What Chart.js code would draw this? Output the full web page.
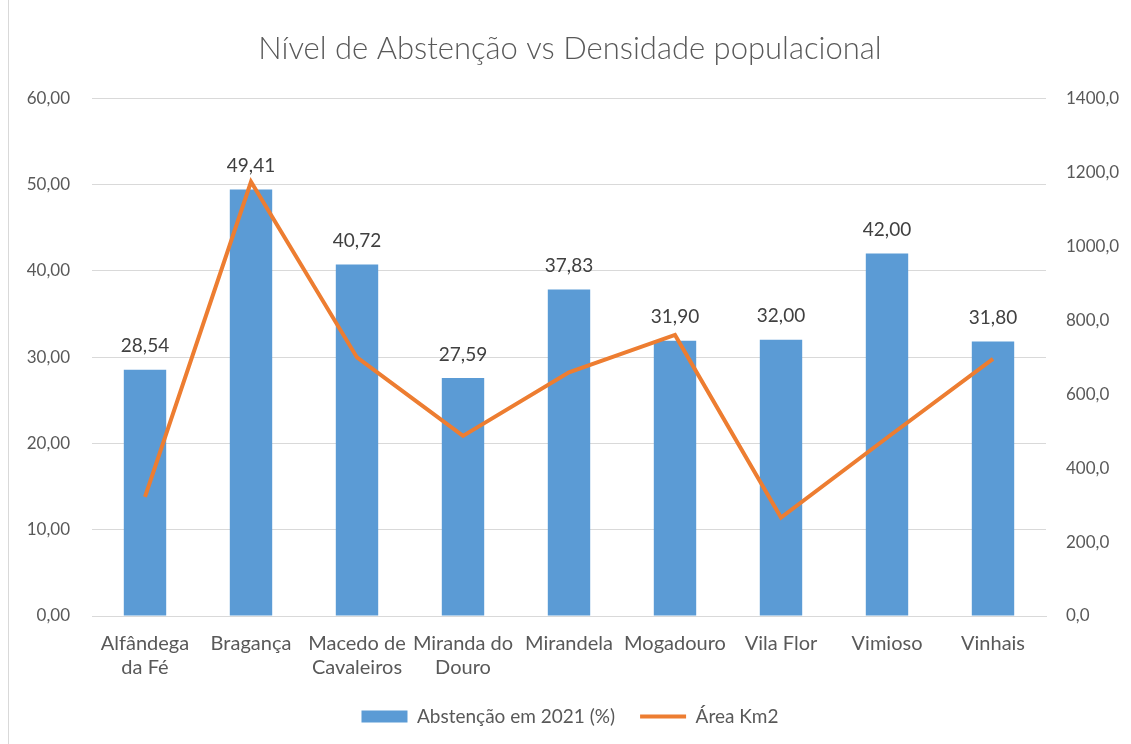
<!doctype html>
<html lang="pt">
<head>
  <meta charset="utf-8">
  <title>Nível de Abstenção vs Densidade populacional</title>
  <script src="https://cdn.jsdelivr.net/npm/chart.js"></script>
  <style>
    html, body { margin: 0; padding: 0; background: #fff; overflow: hidden; }
    #wrap { position: relative; width: 1123px; height: 745px; box-sizing: border-box; border-left: 1px solid #d9d9d9; border-top: 1px solid #d9d9d9; margin-left: 8px; margin-top: -1px; }
    canvas { display: block; }
  </style>
</head>
<body>
  <div id="wrap"><canvas id="chart" width="1122" height="744"></canvas></div>

  <script>
    // dados
    const concelhos = [
      ['Alfândega', 'da Fé'], 'Bragança', ['Macedo de', 'Cavaleiros'], ['Miranda do', 'Douro'],
      'Mirandela', 'Mogadouro', 'Vila Flor', 'Vimioso', 'Vinhais'
    ];
    const abstencao = [28.54, 49.41, 40.72, 27.59, 37.83, 31.90, 32.00, 42.00, 31.80];
    const areaKm2 = [322, 1174, 699, 487, 659, 760, 266, 482, 695];

    const fontFamily = 'Lato, "Open Sans", sans-serif';
    const textColor = '#595959';

    const fmt = (v, d) => Number(v).toFixed(d).replace('.', ',');

    // etiquetas de valor por cima das barras
    const barLabels = {
      id: 'barLabels',
      afterDatasetsDraw(chart) {
        const ctx = chart.ctx;
        const meta = chart.getDatasetMeta(0);
        ctx.save();
        ctx.font = '19px ' + fontFamily;
        ctx.fillStyle = '#404040';
        ctx.textAlign = 'center';
        ctx.textBaseline = 'bottom';
        meta.data.forEach((bar, i) => {
          ctx.fillText(fmt(abstencao[i], 2), bar.x, bar.y - 14);
        });
        ctx.restore();
      }
    };

    const ctx = document.getElementById('chart');
    new Chart(ctx, {
      type: 'bar',
      data: {
        labels: concelhos,
        datasets: [{
          label: 'Abstenção em 2021 (%)',
          data: abstencao,
          backgroundColor: '#5B9BD5',
          borderWidth: 0,
          yAxisID: 'y',
          barPercentage: 0.4,
          categoryPercentage: 1,
          pointStyle: 'rect',
          order: 2
        },
        {
          type: 'line',
          label: 'Área Km2',
          data: areaKm2,
          borderColor: '#ED7D31',
          backgroundColor: '#ED7D31',
          borderWidth: 4,
          pointRadius: 0,
          pointStyle: 'line',
          tension: 0,
          yAxisID: 'y1',
          order: 1
        }]
      },
      options: {
        responsive: false,
        animation: false,
        layout: { padding: { top: 30, left: 0, right: 0, bottom: 8 } },
        plugins: {
          title: {
            display: true,
            text: 'Nível de Abstenção vs Densidade populacional',
            color: textColor,
            font: { family: fontFamily, size: 31, weight: 300 },
            padding: { top: 0, bottom: 31 }
          },
          legend: {
            position: 'bottom',
            labels: {
              usePointStyle: true,
              pointStyleWidth: 46,
              boxHeight: 12,
              color: textColor,
              font: { family: fontFamily, size: 19 },
              padding: 25,
              sort: (a, b) => a.datasetIndex - b.datasetIndex
            }
          },
          tooltip: { enabled: false }
        },
        scales: {
          x: {
            grid: { display: false, drawTicks: false },
            border: { display: true, color: '#d9d9d9' },
            afterFit(scale) { scale.height = 66; },
            ticks: { color: textColor, font: { family: fontFamily, size: 20, lineHeight: 1.2 }, padding: 16, maxRotation: 0 }
          },
          y: {
            position: 'left',
            min: 0,
            max: 60,
            afterFit(scale) { scale.width = 83; },
            grid: { color: '#d9d9d9', drawTicks: false },
            border: { display: false },
            ticks: {
              stepSize: 10,
              color: textColor,
              font: { family: fontFamily, size: 17 },
              padding: 22,
              callback: v => fmt(v, 2)
            }
          },
          y1: {
            position: 'right',
            min: 0,
            max: 1400,
            afterFit(scale) { scale.width = 85; },
            grid: { display: false, drawTicks: false },
            border: { display: false },
            ticks: {
              stepSize: 200,
              color: textColor,
              font: { family: fontFamily, size: 17 },
              padding: 20,
              callback: v => fmt(v, 1)
            }
          }
        }
      },
      plugins: [barLabels]
    });
  </script>
</body>
</html>
